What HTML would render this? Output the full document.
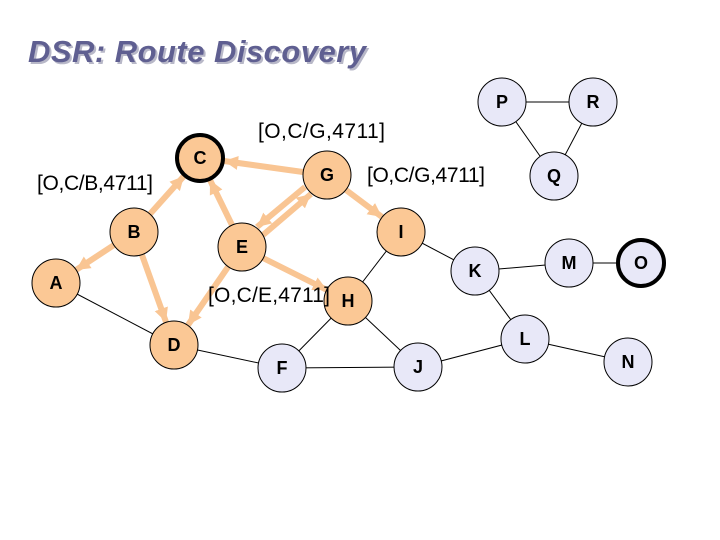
<!DOCTYPE html>
<html><head><meta charset="utf-8"><style>
html,body{margin:0;padding:0;background:#fff;width:720px;height:540px;overflow:hidden}
svg{display:block}
</style></head><body>
<svg width="720" height="540" xmlns="http://www.w3.org/2000/svg" font-family="Liberation Sans, sans-serif">
<defs>
<marker id="ah" markerUnits="userSpaceOnUse" markerWidth="16" markerHeight="16" refX="14" refY="8" orient="auto">
<path d="M0,1 L14,8 L0,15 z" fill="#f9c593"/>
</marker>
</defs>
<text x="30" y="64" font-size="31" font-weight="bold" font-style="italic" fill="#b8b8c8" textLength="338">DSR: Route Discovery</text>
<text x="28" y="62" font-size="31" font-weight="bold" font-style="italic" fill="#5f5f91" textLength="338">DSR: Route Discovery</text>
<g stroke="#000" stroke-width="1">
<line x1="56" y1="283" x2="174" y2="345"/>
<line x1="174" y1="345" x2="282" y2="368"/>
<line x1="282" y1="368" x2="348" y2="301"/>
<line x1="282" y1="368" x2="418" y2="367"/>
<line x1="348" y1="301" x2="401" y2="232"/>
<line x1="348" y1="301" x2="418" y2="367"/>
<line x1="401" y1="232" x2="475" y2="271"/>
<line x1="475" y1="271" x2="569" y2="263"/>
<line x1="569" y1="263" x2="641" y2="263"/>
<line x1="475" y1="271" x2="525" y2="339"/>
<line x1="418" y1="367" x2="525" y2="339"/>
<line x1="525" y1="339" x2="628" y2="362"/>
<line x1="502" y1="102" x2="593" y2="102"/>
<line x1="502" y1="102" x2="554" y2="176"/>
<line x1="593" y1="102" x2="554" y2="176"/>
</g>
<g stroke="#f9c593" stroke-width="6" marker-end="url(#ah)" fill="none">
<line x1="150" y1="214" x2="184" y2="176"/>
<line x1="114" y1="245" x2="76" y2="270"/>
<line x1="142" y1="255" x2="166" y2="322"/>
<line x1="232" y1="225" x2="210" y2="180"/>
<line x1="228" y1="267" x2="188" y2="325"/>
<line x1="303" y1="172" x2="224" y2="161"/>
<line x1="305" y1="187" x2="257" y2="227"/>
<line x1="263" y1="235" x2="311" y2="194"/>
<line x1="346" y1="190" x2="382" y2="217"/>
<line x1="263" y1="258" x2="327" y2="290"/>
</g>
<g stroke="#000" stroke-width="1" fill="#fbc895">
<circle cx="200" cy="158" r="23" stroke-width="4"/>
<circle cx="327" cy="175" r="24"/>
<circle cx="134" cy="232" r="24"/>
<circle cx="242" cy="247" r="24"/>
<circle cx="56" cy="283" r="24"/>
<circle cx="348" cy="301" r="24"/>
<circle cx="174" cy="345" r="24"/>
<circle cx="401" cy="232" r="24"/>
</g>
<g stroke="#000" stroke-width="1" fill="#e8e8f8">
<circle cx="282" cy="368" r="24"/>
<circle cx="502" cy="102" r="24"/>
<circle cx="593" cy="102" r="24"/>
<circle cx="554" cy="176" r="24"/>
<circle cx="475" cy="271" r="24"/>
<circle cx="569" cy="263" r="24"/>
<circle cx="641" cy="263" r="23" stroke-width="4"/>
<circle cx="525" cy="339" r="24"/>
<circle cx="418" cy="367" r="24"/>
<circle cx="628" cy="362" r="24"/>
</g>
<g font-size="18" font-weight="bold" text-anchor="middle" fill="#000">
<text x="200" y="164">C</text><text x="327" y="181">G</text><text x="134" y="238">B</text>
<text x="242" y="253">E</text><text x="56" y="289">A</text><text x="348" y="307">H</text>
<text x="174" y="351">D</text><text x="401" y="238">I</text><text x="282" y="374">F</text>
<text x="502" y="108">P</text><text x="593" y="108">R</text><text x="554" y="182">Q</text>
<text x="475" y="277">K</text><text x="569" y="269">M</text><text x="641" y="269">O</text>
<text x="525" y="345">L</text><text x="418" y="373">J</text><text x="628" y="368">N</text>
</g>
<g font-size="21" fill="#000">
<text x="258" y="138" textLength="127">[O,C/G,4711]</text>
<text x="37" y="190" textLength="116">[O,C/B,4711]</text>
<text x="367" y="182" textLength="118">[O,C/G,4711]</text>
<text x="208" y="302" textLength="122">[O,C/E,4711]</text>
</g>
</svg>
</body></html>
